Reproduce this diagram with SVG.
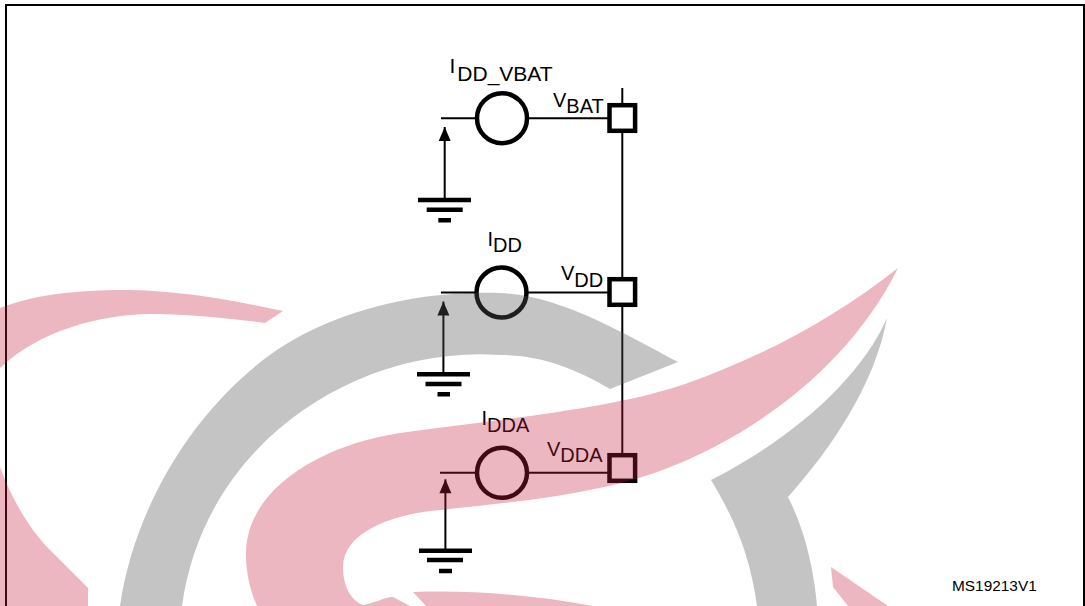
<svg xmlns="http://www.w3.org/2000/svg" width="1085" height="606" viewBox="0 0 1085 606">
<defs>
<marker id="ah" markerUnits="userSpaceOnUse" markerWidth="16" markerHeight="14" refX="14" refY="6" orient="auto" overflow="visible"><path d="M0 0L14 6L0 12Z" fill="#000"/></marker>
</defs>
<style>
.lbl{font-family:"Liberation Sans",Arial,sans-serif;font-size:20px;fill:#000}
.wire{stroke:#000;stroke-width:2;fill:none}
.thick{stroke:#000;fill:none;stroke-width:4.5}
.pad{stroke:#000;fill:none;stroke-width:4.5}
.gnd{stroke:#000;stroke-width:4.5;fill:none}
.pink{fill:rgb(197,31,62);fill-opacity:.32}
.grey{fill:rgb(86,86,86);fill-opacity:.35}
</style>
<rect width="1085" height="606" fill="#fff"/>
<rect x="6" y="5" width="1078" height="620" fill="none" stroke="#000" stroke-width="2"/>
<g id="connectors">
<path class="wire" d="M622.3 88V103M622.3 131V279M622.3 305V455"/>
<path class="wire" d="M441 118.3H475M529 118.3H609"/>
<path class="wire" d="M441 292.5H475M528 292.5H609"/>
<path class="wire" d="M440 472.7H475M529 472.7H609"/>
<path class="wire" d="M444.7 200V127" marker-end="url(#ah)"/>
<path class="wire" d="M443.4 374V301.5" marker-end="url(#ah)"/>
<path class="wire" d="M445.4 550V479.3" marker-end="url(#ah)"/>
</g>
<g id="node-vbat">
<circle class="thick" cx="502" cy="118.2" r="25"/>
<rect class="pad" x="609.5" y="105.2" width="25.6" height="25.6"/>
<text class="lbl" x="449.5" y="73" style="font-size:21px">I<tspan dx="2" dy="8">DD_VBAT</tspan></text>
<text class="lbl" x="553" y="107">V<tspan dy="6">BAT</tspan></text>
</g>
<g id="ground-vbat"><path class="gnd" d="M418 200H471M426.7 209.7H462.7M438.3 220.3H451"/></g>
<g id="node-vdd">
<circle class="thick" cx="501.5" cy="292.5" r="25"/>
<rect class="pad" x="609.5" y="279.2" width="25.6" height="25.6"/>
<text class="lbl" x="487.5" y="246">I<tspan dy="6">DD</tspan></text>
<text class="lbl" x="561" y="280">V<tspan dy="7">DD</tspan></text>
</g>
<g id="ground-vdd"><path class="gnd" d="M417 374.3H470M425.5 384H461.5M437.5 394.3H450"/></g>
<g id="node-vdda">
<circle class="thick" cx="502" cy="472.8" r="25"/>
<rect class="pad" x="609.5" y="455.2" width="25.6" height="25.6"/>
<text class="lbl" x="481.5" y="425">I<tspan dy="7">DDA</tspan></text>
<text class="lbl" x="547" y="456">V<tspan dy="6">DDA</tspan></text>
</g>
<g id="ground-vdda"><path class="gnd" d="M419 550.7H472M427 560H463M439 571H452"/></g>
<text class="lbl" x="952" y="591" style="font-size:15.4px">MS19213V1</text>
<g id="watermark">
<path class="pink" d="M0 308C40 292 90 290 130 290C185 291 235 301 283 311L265 323C220 317 180 314 150 314C100 315 40 330 0 368Z"/>
<path class="pink" d="M0 467C12 500 30 530 50 550L88 588V606H0Z"/>
<path class="grey" d="M120 606C134 510 190 415 267 357C330 310 420 290 500 293C560 295 625 334 678 362L610 389C575 368 540 355 500 355C360 345 205 440 182 606Z"/>
<path class="pink" d="M898 268C835 318 760 358 685 384C610 410 490 420 400 433C320 445 245 490 246 555C246 575 251 592 257 606H410L393 597C385 597 372 604 363 605C350 600 343 585 343 567C343 535 385 515 440 510C510 503 580 495 632 480C720 455 840 385 898 268Z"/>
<path class="grey" d="M887 318C875 385 830 450 788 497C805 530 814 570 817 606H757C750 555 735 520 711 480C790 440 860 380 887 318Z"/>
<path class="pink" d="M831 567L888 606H848L833 587Z"/>
<path class="pink" d="M413 592C480 590 540 596 593 606H426Z"/>
</g>
</svg>
